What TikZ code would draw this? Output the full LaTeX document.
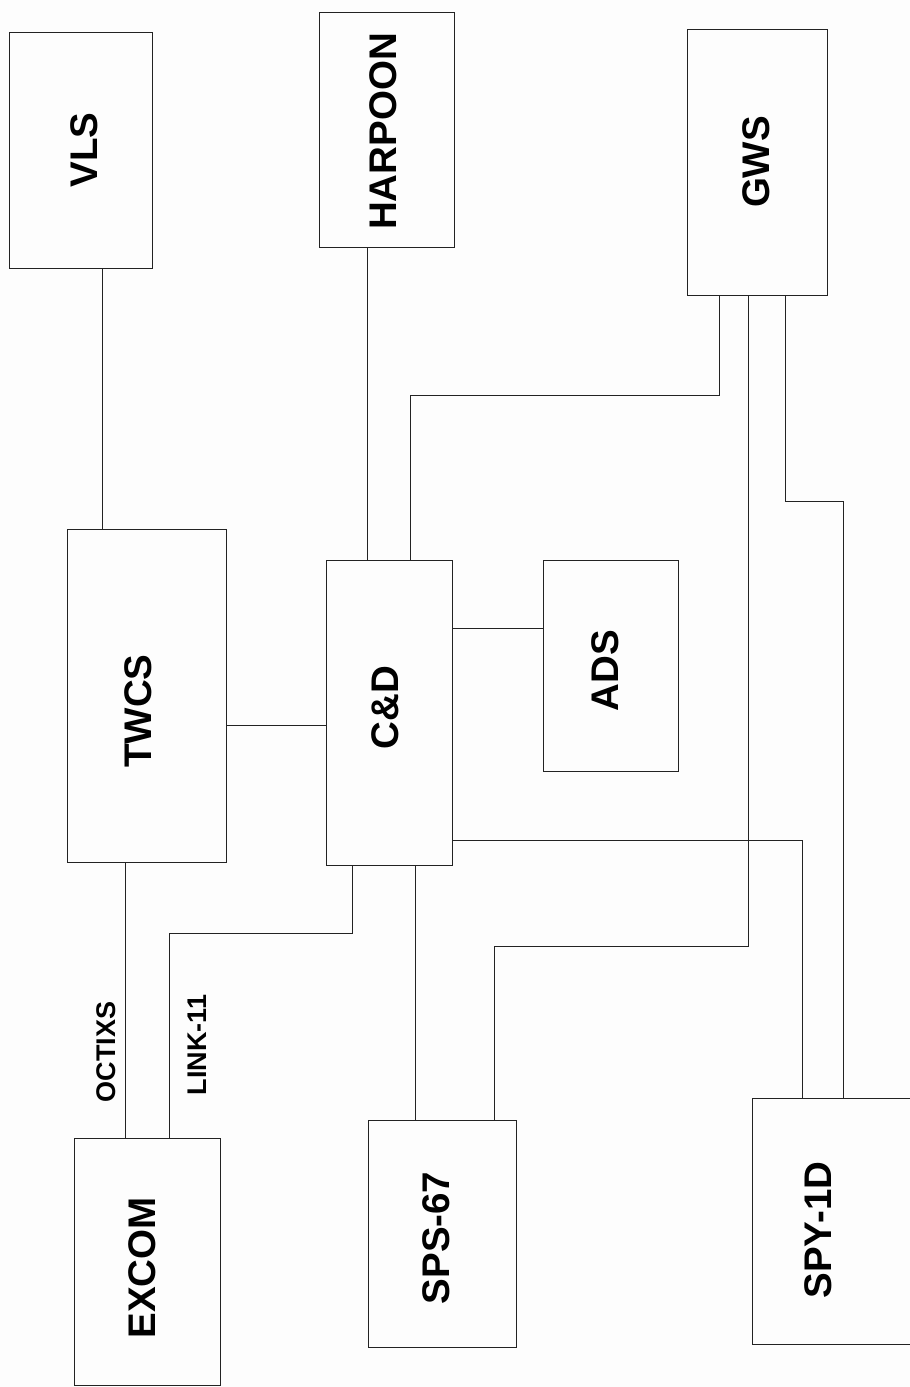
\documentclass[tikz,border=0pt]{standalone}
\usepackage{fontspec}
\setmainfont{Liberation Sans}
\definecolor{bg}{RGB}{253,253,253}
\definecolor{ink}{RGB}{35,35,35}
\begin{document}
\begin{tikzpicture}[x=1pt,y=-1pt,
  box/.style={draw=ink, line width=0.95pt, inner sep=0pt, outer sep=0pt},
  conn/.style={draw=ink, line width=0.85pt},
  big/.style={inner sep=0pt, rotate=90, font=\bfseries\fontsize{38.5}{38.5}\selectfont},
  small/.style={inner sep=0pt, rotate=90, font=\bfseries\fontsize{27}{27}\selectfont}]
\useasboundingbox (0,0) rectangle (910,1387);
\fill[bg] (0,0) rectangle (910,1387);
\begin{scope}
\clip (0,0) rectangle (910,1387);
% boxes
\node[box, minimum width=143pt, minimum height=236pt] (vls) at (80.5,150) {};
\node[box, minimum width=135pt, minimum height=235pt] (harpoon) at (386.5,129.5) {};
\node[box, minimum width=140pt, minimum height=266pt] (gws) at (757,162) {};
\node[box, minimum width=159pt, minimum height=333pt] (twcs) at (146.5,695.5) {};
\node[box, minimum width=126pt, minimum height=305pt] (cd) at (389,712.5) {};
\node[box, minimum width=135pt, minimum height=211pt] (ads) at (610.5,665.5) {};
\node[box, minimum width=146pt, minimum height=247pt] (excom) at (147,1261.5) {};
\node[box, minimum width=148pt, minimum height=227pt] (sps) at (442,1233.5) {};
\node[box, minimum width=173pt, minimum height=246pt] (spy) at (838.5,1221) {};
% labels
\node[big] (vlsT) at (84,150) {VLS};
\node[big] (harpoonT) at (383.5,131.5) {HARPOON};
\node[big] (gwsT) at (756,162) {GWS};
\node[big] (twcsT) at (138.5,711) {TWCS};
\node[big] (cdT) at (385,707.5) {C\&D};
\node[big] (adsT) at (605.5,670.5) {ADS};
\node[big] (excomT) at (142.5,1268) {EXCOM};
\node[big] (spsT) at (436,1238) {SPS-67};
\node[big] (spyT) at (818,1230) {SPY-1D};
\node[small] (octixs) at (106,1052) {OCTIXS};
\node[small] (link) at (197,1045) {LINK-11};
% connectors
\draw[conn] (vls.south -| 102,0) -- (twcs.north -| 102,0);
\draw[conn] (harpoon.south -| 367,0) -- (cd.north -| 367,0);
\draw[conn] (gws.south -| 719,0) |- (410,395) -- (cd.north -| 410,0);
\draw[conn] (gws.south -| 748,0) |- (494,946) -- (sps.north -| 494,0);
\draw[conn] (gws.south -| 785,0) |- (843,501) -- (spy.north -| 843,0);
\draw[conn] (twcs.east |- 0,725) -- (cd.west |- 0,725);
\draw[conn] (cd.east |- 0,628) -- (ads.west |- 0,628);
\draw[conn] (cd.east |- 0,840) -| (spy.north -| 802,0);
\draw[conn] (twcs.south -| 125,0) -- (excom.north -| 125,0);
\draw[conn] (cd.south -| 352,0) |- (169,933) -- (excom.north -| 169,0);
\draw[conn] (cd.south -| 415,0) -- (sps.north -| 415,0);
\end{scope}
\end{tikzpicture}
\end{document}
